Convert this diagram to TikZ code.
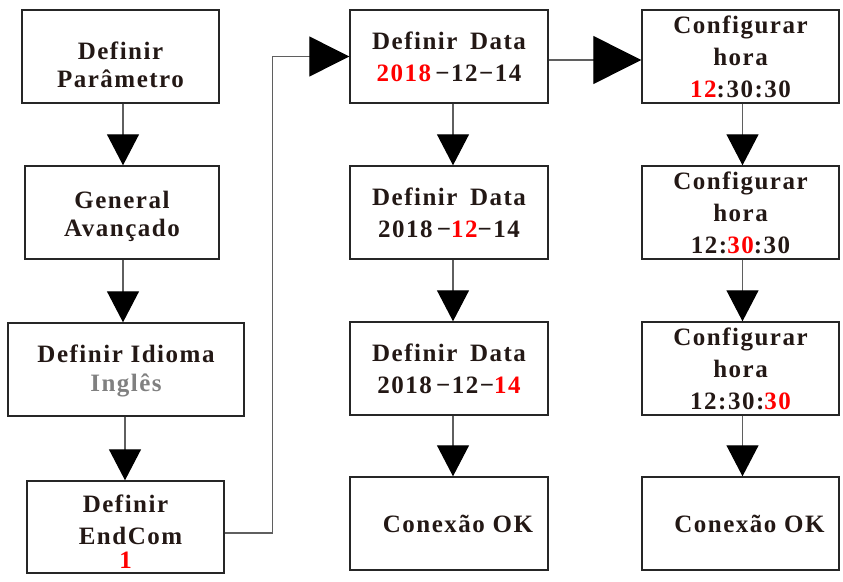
\documentclass[tikz,border=0pt]{standalone}
\usepackage{fontspec}
\setmainfont{Liberation Serif}[LetterSpace=6]
\usetikzlibrary{arrows.meta}
\definecolor{inkdark}{RGB}{35,24,21}
\definecolor{wiregray}{RGB}{95,95,95}
\definecolor{softgray}{RGB}{128,128,128}
\definecolor{hotred}{RGB}{255,0,0}
\newcommand{\hl}[1]{\textcolor{hotred}{#1}}
\newcommand{\topgap}[1]{\rule{0pt}{#1}}

\begin{document}
\begin{tikzpicture}[x=1pt, y=-1pt,
    box/.style={draw=black!85, line width=1.4pt, minimum width=197pt, minimum height=93pt,
      inner sep=0pt, align=center, text=inkdark, font=\bfseries\fontsize{25}{28}\selectfont},
    wide/.style={box, font=\bfseries\fontsize{25}{32}\selectfont},
    flow/.style={draw=wiregray, line width=1.2pt, -{Triangle[width=32pt,length=31pt,color=black]}},
    bigflow/.style={flow, -{Triangle[width=#1,length=#1,color=black]}}]
    \useasboundingbox (0,0) rectangle (843,581);

    % First column: menu path
    \node[box] (setpar) at (120.5,56.5) {\topgap{34pt}Definir\\Parâmetro};
    \node[box, minimum width=194pt] (geral) at (122,212.5) {\topgap{26pt}General\\Avançado};
    \node[box, minimum width=236pt] (idioma) at (126,369.5) {\topgap{21pt}Definir Idioma\\[1pt]\textcolor{softgray}{Inglês}};
    \node[box, minimum height=92pt] (endcom) at (125.5,527)
        {\topgap{26pt}Definir\hspace{22pt}\\[4pt]\hspace{10pt}EndCom\\[-4pt]\hl{1}\hspace{14pt}};

    % Second column: date
    \node[wide, minimum width=198pt] (data1) at (449,56.5) {Definir\hspace{0.5em}Data\\\hl{2018}\,−12−14\hspace{8pt}};
    \node[wide, minimum width=198pt] (data2) at (449,212.5) {Definir\hspace{0.5em}Data\\2018\,−\hl{12}−14\hspace{8pt}};
    \node[wide, minimum width=198pt] (data3) at (449,368.5) {Definir\hspace{0.5em}Data\\2018\,−12−\hl{14}\hspace{8pt}};
    \node[wide, minimum width=198pt] (conn1) at (449,523.5) {\hspace{18pt}Conexão OK};

    % Third column: time
    \node[wide] (hora1) at (740.5,56.5) {Configurar\\hora\\\hl{12}:30:30};
    \node[wide] (hora2) at (740.5,212.5) {Configurar\\hora\\12:\hl{30}:30};
    \node[wide] (hora3) at (740.5,368.5) {Configurar\\hora\\12:30:\hl{30}};
    \node[wide] (conn2) at (740.5,523.5) {\hspace{18pt}Conexão OK};

    % Arrows down each column
    \draw[flow] ([xshift=2.5pt]setpar.south) -- ([xshift=2.5pt]setpar.south |- geral.north);
    \draw[flow] ([xshift=1pt]geral.south) -- ([xshift=1pt]geral.south |- idioma.north);
    \draw[flow] ([xshift=-1pt]idioma.south) -- ([xshift=-1pt]idioma.south |- endcom.north);
    \draw[flow] ([xshift=4pt]data1.south) -- ([xshift=4pt]data2.north);
    \draw[flow] ([xshift=4pt]data2.south) -- ([xshift=4pt]data3.north);
    \draw[flow] ([xshift=4pt]data3.south) -- ([xshift=4pt]conn1.north);
    \draw[flow] ([xshift=2pt]hora1.south) -- ([xshift=2pt]hora2.north);
    \draw[flow] ([xshift=2pt]hora2.south) -- ([xshift=2pt]hora3.north);
    \draw[flow] ([xshift=2pt]hora3.south) -- ([xshift=2pt]conn2.north);

    % Jumps between columns
    \coordinate (turn) at (272.5,56.5);
    \draw[bigflow=40pt] ([yshift=-6pt]endcom.east) -| (turn) -- (data1.west);
    \draw[bigflow=48pt] ([yshift=-3.5pt]data1.east) -- ([yshift=-3.5pt]hora1.west);
\end{tikzpicture}
\end{document}
